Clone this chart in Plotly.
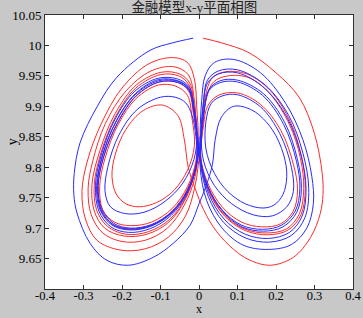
import plotly.graph_objects as go

# Trajectory points (x, y), in drawing order
red_xy = [
    (0.01, 10.012), (0.06, 10.004), (0.13, 9.988), (0.2, 9.955), (0.26, 9.915), (0.3, 9.855),
    (0.32, 9.79), (0.322, 9.755), (0.315, 9.724), (0.29, 9.685), (0.245, 9.652), (0.185, 9.639),
    (0.13, 9.648), (0.09, 9.665), (0.045, 9.695), (0.012, 9.73), (-0.01, 9.765),
    (-0.028, 9.80), (-0.038, 9.845), (-0.055, 9.885), (-0.095, 9.902), (-0.145, 9.893), (-0.19, 9.862),
    (-0.218, 9.82), (-0.226, 9.785), (-0.215, 9.756), (-0.19, 9.74), (-0.155, 9.735), (-0.11, 9.742),
    (-0.065, 9.762), (-0.03, 9.795), (-0.012, 9.835),
    (-0.018, 9.88), (-0.03, 9.918), (-0.06, 9.933), (-0.105, 9.935), (-0.163, 9.913), (-0.21, 9.87),
    (-0.244, 9.815), (-0.258, 9.768), (-0.25, 9.73), (-0.22, 9.71), (-0.177, 9.704), (-0.123, 9.71),
    (-0.07, 9.732), (-0.03, 9.768), (-0.008, 9.81), (-0.005, 9.85),
    (-0.012, 9.895), (-0.024, 9.938), (-0.05, 9.953), (-0.098, 9.956), (-0.163, 9.935), (-0.218, 9.888),
    (-0.257, 9.828), (-0.278, 9.772), (-0.272, 9.728), (-0.245, 9.7), (-0.195, 9.687), (-0.135, 9.69),
    (-0.078, 9.71), (-0.035, 9.748), (-0.01, 9.795), (-0.002, 9.845),
    (-0.006, 9.9), (-0.012, 9.945), (-0.03, 9.972), (-0.067, 9.98), (-0.13, 9.97), (-0.2, 9.93),
    (-0.255, 9.87), (-0.29, 9.81), (-0.304, 9.76), (-0.295, 9.715), (-0.265, 9.68), (-0.205, 9.664),
    (-0.14, 9.666), (-0.08, 9.685), (-0.035, 9.72), (-0.01, 9.77), (0.002, 9.825),
    (0.012, 9.87), (0.022, 9.9), (0.05, 9.918), (0.10, 9.922), (0.16, 9.903), (0.213, 9.86),
    (0.245, 9.805), (0.256, 9.763), (0.245, 9.728), (0.212, 9.707), (0.163, 9.702), (0.11, 9.71),
    (0.06, 9.735), (0.022, 9.775), (0.004, 9.82),
    (0.01, 9.87), (0.016, 9.915), (0.035, 9.947), (0.07, 9.957), (0.125, 9.953), (0.185, 9.926),
    (0.237, 9.875), (0.266, 9.818), (0.276, 9.765), (0.265, 9.722), (0.232, 9.697), (0.18, 9.689),
    (0.12, 9.696), (0.066, 9.72), (0.026, 9.76), (0.005, 9.81),
    (0.01, 9.865), (0.018, 9.91), (0.038, 9.94), (0.075, 9.95), (0.13, 9.947), (0.185, 9.92),
    (0.235, 9.87), (0.263, 9.816), (0.272, 9.765), (0.261, 9.724), (0.228, 9.699), (0.176, 9.692),
    (0.117, 9.699), (0.064, 9.723), (0.025, 9.763), (0.003, 9.815),
    (-0.006, 9.86), (-0.012, 9.91), (-0.028, 9.952), (-0.065, 9.965), (-0.125, 9.958), (-0.19, 9.925),
    (-0.243, 9.872), (-0.276, 9.81), (-0.288, 9.765), (-0.28, 9.722), (-0.25, 9.692), (-0.2, 9.678),
    (-0.14, 9.68), (-0.082, 9.7), (-0.038, 9.738), (-0.01, 9.785), (-0.003, 9.835),
    (-0.014, 9.885), (-0.027, 9.925), (-0.055, 9.939), (-0.104, 9.94), (-0.164, 9.917), (-0.213, 9.872),
    (-0.248, 9.817), (-0.262, 9.768), (-0.253, 9.729), (-0.223, 9.706), (-0.179, 9.699), (-0.124, 9.705),
    (-0.07, 9.728), (-0.03, 9.764), (-0.008, 9.806), (-0.004, 9.85),
    (-0.013, 9.893), (-0.026, 9.935), (-0.053, 9.95), (-0.1, 9.952), (-0.164, 9.93), (-0.216, 9.884),
    (-0.254, 9.825), (-0.272, 9.772), (-0.266, 9.73), (-0.238, 9.703), (-0.19, 9.69), (-0.132, 9.694),
    (-0.075, 9.715), (-0.033, 9.752), (-0.009, 9.798), (0.0, 9.84),
]

blue_xy = [
    (-0.015, 10.012), (-0.07, 10.004), (-0.127, 9.992), (-0.213, 9.948), (-0.265, 9.899), (-0.309, 9.84),
    (-0.324, 9.79), (-0.325, 9.755), (-0.317, 9.725), (-0.283, 9.675), (-0.239, 9.647), (-0.184, 9.639),
    (-0.119, 9.652), (-0.067, 9.675), (-0.023, 9.705), (0.0, 9.74), (0.02, 9.772), (0.035, 9.805),
    (0.042, 9.845),
    (0.058, 9.882), (0.09, 9.9), (0.14, 9.893), (0.19, 9.862), (0.22, 9.82), (0.228, 9.785),
    (0.218, 9.755), (0.195, 9.738), (0.166, 9.733), (0.12, 9.74), (0.075, 9.76), (0.04, 9.79),
    (0.018, 9.83),
    (0.018, 9.875), (0.032, 9.905), (0.06, 9.917), (0.10, 9.919), (0.16, 9.899), (0.21, 9.855),
    (0.24, 9.80), (0.245, 9.76), (0.228, 9.735), (0.19, 9.72), (0.14, 9.722), (0.085, 9.74),
    (0.04, 9.77), (0.012, 9.81), (0.006, 9.85),
    (0.013, 9.89), (0.026, 9.926), (0.055, 9.939), (0.10, 9.94), (0.165, 9.918), (0.22, 9.87),
    (0.253, 9.81), (0.262, 9.765), (0.25, 9.728), (0.215, 9.705), (0.165, 9.698), (0.11, 9.705),
    (0.06, 9.73), (0.022, 9.77), (0.003, 9.815),
    (-0.006, 9.855), (-0.014, 9.895), (-0.027, 9.93), (-0.055, 9.942), (-0.105, 9.944), (-0.165, 9.921),
    (-0.215, 9.876), (-0.25, 9.82), (-0.266, 9.77), (-0.257, 9.73), (-0.226, 9.705), (-0.18, 9.697),
    (-0.125, 9.703), (-0.07, 9.725), (-0.03, 9.76), (-0.008, 9.80),
    (-0.005, 9.848), (-0.013, 9.89), (-0.026, 9.926), (-0.054, 9.939), (-0.103, 9.94), (-0.163, 9.917),
    (-0.212, 9.872), (-0.247, 9.818), (-0.262, 9.77), (-0.253, 9.732), (-0.222, 9.708), (-0.178, 9.70),
    (-0.123, 9.706), (-0.068, 9.728), (-0.028, 9.763), (-0.006, 9.805),
    (-0.008, 9.85), (-0.018, 9.885), (-0.035, 9.906), (-0.062, 9.915), (-0.10, 9.915), (-0.16, 9.895),
    (-0.208, 9.853), (-0.237, 9.80), (-0.244, 9.76), (-0.23, 9.735), (-0.193, 9.724), (-0.143, 9.726),
    (-0.088, 9.744), (-0.042, 9.774), (-0.013, 9.813),
    (-0.005, 9.855), (-0.012, 9.897), (-0.026, 9.932), (-0.056, 9.945), (-0.107, 9.946), (-0.168, 9.924),
    (-0.218, 9.879), (-0.253, 9.822), (-0.269, 9.77), (-0.26, 9.728), (-0.229, 9.702), (-0.183, 9.693),
    (-0.127, 9.699), (-0.072, 9.721), (-0.031, 9.757), (-0.008, 9.80),
    (0.004, 9.845), (0.01, 9.895), (0.022, 9.938), (0.05, 9.953), (0.10, 9.955), (0.17, 9.93),
    (0.23, 9.88), (0.265, 9.82), (0.278, 9.765), (0.268, 9.72), (0.235, 9.693), (0.18, 9.683),
    (0.12, 9.69), (0.065, 9.715), (0.025, 9.757), (0.004, 9.81),
    (0.003, 9.855), (0.007, 9.91), (0.016, 9.95), (0.04, 9.972), (0.09, 9.977), (0.16, 9.955),
    (0.225, 9.905), (0.27, 9.845), (0.293, 9.785), (0.297, 9.74), (0.28, 9.70), (0.24, 9.673),
    (0.18, 9.665), (0.115, 9.672), (0.06, 9.70), (0.02, 9.745), (0.003, 9.8),
    (0.006, 9.85), (0.013, 9.893), (0.026, 9.928), (0.055, 9.942), (0.10, 9.943), (0.167, 9.921),
    (0.223, 9.873), (0.256, 9.812), (0.266, 9.765), (0.254, 9.726), (0.218, 9.702), (0.168, 9.695),
    (0.112, 9.702), (0.062, 9.727), (0.023, 9.768), (0.004, 9.815),
    (0.005, 9.86), (0.011, 9.905), (0.022, 9.943), (0.05, 9.958), (0.10, 9.96), (0.172, 9.935),
    (0.233, 9.885), (0.27, 9.823), (0.285, 9.765), (0.275, 9.717), (0.24, 9.688), (0.183, 9.677),
    (0.12, 9.684), (0.063, 9.71), (0.024, 9.752), (0.003, 9.806),
    (-0.005, 9.85), (-0.013, 9.893), (-0.027, 9.929), (-0.055, 9.941), (-0.105, 9.942), (-0.166, 9.919),
    (-0.216, 9.874), (-0.251, 9.819), (-0.264, 9.77), (-0.255, 9.73), (-0.224, 9.706), (-0.18, 9.698),
    (-0.125, 9.704), (-0.07, 9.726), (-0.03, 9.762), (-0.008, 9.803), (0.0, 9.85),
]

x_ticks = [-0.4, -0.3, -0.2, -0.1, 0, 0.1, 0.2, 0.3, 0.4]
x_tick_labels = ["-0.4", "-0.3", "-0.2", "-0.1", "0", "0.1", "0.2", "0.3", "0.4"]
y_ticks = [9.65, 9.7, 9.75, 9.8, 9.85, 9.9, 9.95, 10.0, 10.05]
y_tick_labels = ["9.65", "9.7", "9.75", "9.8", "9.85", "9.9", "9.95", "10", "10.05"]

title_text = "金融模型x-y平面相图"
serif = "Liberation Serif, Times New Roman, Noto Sans CJK SC, serif"

fig = go.Figure()
fig.add_trace(go.Scatter(
    x=[p[0] for p in red_xy], y=[p[1] for p in red_xy], mode="lines",
    line=dict(color="#ff2a2a", width=1, shape="spline", smoothing=1.0),
    showlegend=False, hoverinfo="skip"))
fig.add_trace(go.Scatter(
    x=[p[0] for p in blue_xy], y=[p[1] for p in blue_xy], mode="lines",
    line=dict(color="#2a2aff", width=1, shape="spline", smoothing=1.0),
    showlegend=False, hoverinfo="skip"))

axis_common = dict(
    showgrid=False, zeroline=False, showline=True, linecolor="#303030", linewidth=1,
    mirror="ticks", ticks="inside", ticklen=4, tickcolor="#303030", automargin=False,
)
fig.update_xaxes(range=[-0.4, 0.4], tickvals=x_ticks, ticktext=x_tick_labels,
                 ticklabelstandoff=-5, tickfont=dict(family=serif, size=12.5, color="black"),
                 **axis_common)
fig.update_yaxes(range=[9.6, 10.05], tickvals=y_ticks, ticktext=y_tick_labels,
                 tickfont=dict(family=serif, size=13, color="black"), **axis_common)

fig.update_layout(
    template="none",
    width=363, height=318,
    margin=dict(l=45, r=10, t=15, b=29),
    paper_bgcolor="#c8c8c8", plot_bgcolor="white",
    title=dict(text=title_text, x=0.485, xref="paper", xanchor="center",
               y=0.978, yref="container", yanchor="middle",
               font=dict(family=serif, size=13.5, color="#222")),
    annotations=[
        dict(text="x", x=0.5, xref="paper", xanchor="center", y=-0.106, yref="paper",
             yanchor="bottom", showarrow=False, font=dict(family=serif, size=12, color="black")),
        dict(text="y", x=-0.107, xref="paper", xanchor="center", y=0.536, yref="paper",
             yanchor="middle", textangle=-90, showarrow=False,
             font=dict(family=serif, size=14, color="black")),
    ],
)

fig.write_html(
    "out.html",
    config={"displayModeBar": False},
    post_script="document.body.style.margin='0';document.body.style.background='#c8c8c8';",
)
